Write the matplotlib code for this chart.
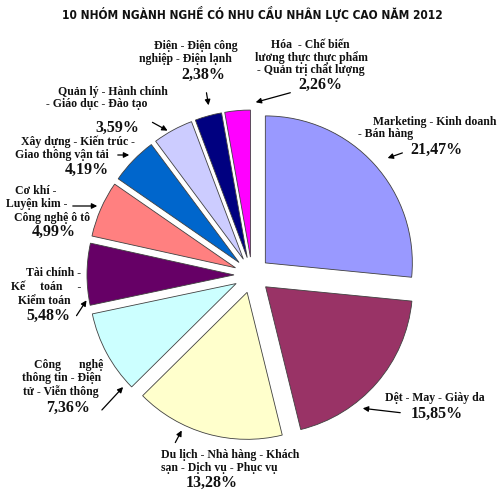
import matplotlib
matplotlib.use('Agg')
import matplotlib.pyplot as plt
from matplotlib import font_manager

# Số liệu
nhom_nganh = ['Marketing - Kinh doanh - Bán hàng',
              'Dệt - May - Giày da',
              'Du lịch - Nhà hàng - Khách sạn - Dịch vụ - Phục vụ',
              'Công nghệ thông tin - Điện tử - Viễn thông',
              'Tài chính - Kế toán - Kiểm toán',
              'Cơ khí - Luyện kim - Công nghệ ô tô',
              'Xây dựng - Kiến trúc - Giao thông vận tải',
              'Quản lý - Hành chính - Giáo dục - Đào tạo',
              'Điện - Điện công nghiệp - Điện lạnh',
              'Hóa - Chế biến lương thực thực phẩm - Quản trị chất lượng']
ty_le = [21.47, 15.85, 13.28, 7.36, 5.48, 4.99, 4.19, 3.59, 2.38, 2.26]
mau = ['#9999FF', '#993366', '#FFFFCC', '#CCFFFF', '#660066',
       '#FF8080', '#0066CC', '#CCCCFF', '#000080', '#FF00FF']

# Dòng chữ của từng nhãn (tọa độ theo pixel, gốc ở góc trên trái)
dong_nhan = [
    [('Marketing - Kinh doanh', 435, 122), ('- Bán hàng', 386, 134)],
    [('Dệt - May - Giày da', 435, 398)],
    [('Du lịch - Nhà hàng - Khách', 230, 455), ('sạn - Dịch vụ - Phục vụ', 219, 468)],
    [('Công      nghệ', 69, 365), ('thông tin - Điện', 62, 378), ('tử - Viễn thông', 61, 392)],
    [('Tài chính -', 54, 273), ('Kế     toán     -', 46, 287), ('Kiểm toán', 44, 301)],
    [('Cơ khí -', 36, 191), ('Luyện kim -', 37, 204), ('Công nghệ ô tô', 52, 218)],
    [('Xây dựng - Kiến trúc -', 78, 142), ('Giao thông vận tải', 62, 155)],
    [('Quản lý - Hành chính', 113, 92), ('- Giáo dục - Đào tạo', 97, 104)],
    [('Điện - Điện công', 196, 46), ('nghiệp - Điện lạnh', 185, 59)],
    [('Hóa  - Chế biến', 310, 45), ('lương thực thực phẩm', 311, 58), ('- Quản trị chất lượng', 311, 70)],
]
vi_tri_pt = [(436, 150), (437, 414), (212, 483), (68, 408), (48, 316),
             (54, 232), (87, 170), (117, 128), (203, 75), (320, 85)]
mui_ten = [((405, 152), (385, 159)), ((403, 413), (360, 408)), ((174, 445), (183, 428)),
           ((100, 412), (125, 385)), ((75, 318), (88, 298)), ((70, 206), (100, 206)),
           ((115, 155), (132, 155)), ((150, 121), (170, 132)), ((206, 90), (209, 108)),
           ((293, 92), (253, 103))]

W, H = 500, 493


def Y(py):
    return H - py


# chọn phông chữ hẹp cho tiêu đề nếu có
def phong_tieu_de():
    for fam, stretch in [('Liberation Sans Narrow', 'normal'),
                         ('DejaVu Sans', 'condensed')]:
        try:
            p = font_manager.findfont(font_manager.FontProperties(
                family=fam, stretch=stretch, weight='bold'), fallback_to_default=False)
            if fam != 'DejaVu Sans' or 'Condensed' in p:
                return fam, stretch
        except Exception:
            pass
    return 'DejaVu Sans', 'normal'


fig = plt.figure(figsize=(5, 4.93), dpi=100)
ax = fig.add_axes([0, 0, 1, 1])

ax.pie(ty_le, colors=mau, startangle=90, counterclock=False,
       explode=[18] * len(ty_le), radius=147, center=(252, Y(275)),
       wedgeprops=dict(edgecolor='#404040', linewidth=0.6))
ax.set_xlim(0, W)
ax.set_ylim(0, H)
ax.set_aspect('equal')
ax.axis('off')

serif = 'Liberation Serif'
for i, v in enumerate(ty_le):
    for txt, x, y in dong_nhan[i]:
        ax.text(x, Y(y), txt, ha='center', va='center', fontsize=8.5,
                fontweight='bold', family=serif, color='#111111')
    px, py = vi_tri_pt[i]
    ax.text(px, Y(py), f'{v:.2f}%'.replace('.', ','), ha='center', va='center',
            fontsize=11.5, fontweight='bold', family=serif, color='#111111')
    (x0, y0), (x1, y1) = mui_ten[i]
    ax.annotate('', xy=(x1, Y(y1)), xytext=(x0, Y(y0)),
                arrowprops=dict(arrowstyle='-|>', color='black', lw=0.9,
                                mutation_scale=8))

fam, stretch = phong_tieu_de()
tieu_de = ax.text(252, Y(14), '10 NHÓM NGÀNH NGHỀ CÓ NHU CẦU NHÂN LỰC CAO NĂM 2012',
                  ha='center', va='center', fontsize=10, fontweight='bold',
                  family=fam, fontstretch=stretch, color='#111111')
# chỉnh cỡ chữ cho tiêu đề rộng khoảng 381 px như ảnh gốc
r = fig.canvas.get_renderer()
rong = tieu_de.get_window_extent(r).width
tieu_de.set_fontsize(10 * 381 / rong)

fig.savefig('out.png', dpi=100, facecolor='white')
